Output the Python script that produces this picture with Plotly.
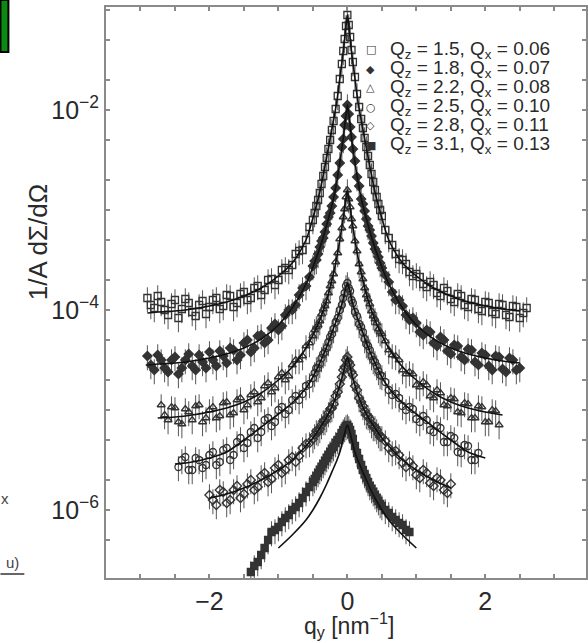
import numpy as np
import plotly.graph_objects as go

# ---------------- data (log10 of 1/A dSigma/dOmega) ----------------
# scan A q-grid
Q_A = [-2.9, -2.8, -2.7, -2.6, -2.5, -2.4, -2.3, -2.2, -2.1, -2.0, -1.9, -1.8,
       -1.7, -1.6, -1.5, -1.4, -1.3, -1.2, -1.1, -1.0, -0.9, -0.8, -0.7, -0.6,
       -0.5, -0.45, -0.4, -0.35, -0.3, -0.25, -0.2, -0.17, -0.14, -0.11, -0.08, -0.06, -0.04, -0.02,
       0.0,
       0.02, 0.04, 0.06, 0.08, 0.11, 0.14, 0.17, 0.2, 0.25, 0.3, 0.35, 0.4, 0.45, 0.5,
       0.6, 0.7, 0.8, 0.9, 1.0, 1.1, 1.2, 1.3, 1.4, 1.5, 1.6, 1.7, 1.8, 1.9, 2.0,
       2.1, 2.2, 2.3, 2.4, 2.5, 2.6]
# scan B q-grid (interleaved points)
Q_B = [-2.85, -2.75, -2.65, -2.55, -2.45, -2.35, -2.25, -2.15, -2.05, -1.95, -1.85, -1.75,
       -1.65, -1.55, -1.45, -1.35, -1.25, -1.15, -1.05, -0.95, -0.85, -0.75, -0.65,
       -0.55, -0.475, -0.425, -0.375, -0.325, -0.275, -0.225,
       0.225, 0.275, 0.325, 0.375, 0.425, 0.475, 0.55,
       0.65, 0.75, 0.85, 0.95, 1.05, 1.15, 1.25, 1.35, 1.45, 1.55, 1.65, 1.75, 1.85, 1.95,
       2.05, 2.15, 2.25, 2.35, 2.45, 2.55]

S1_A = [-3.88, -3.98, -3.92, -4.05, -3.90, -3.99, -3.93, -4.06, -3.91, -3.97, -3.88, -3.96,
        -3.86, -3.93, -3.82, -3.88, -3.76, -3.80, -3.69, -3.70, -3.58, -3.55, -3.41, -3.30,
        -3.10, -2.96, -2.83, -2.66, -2.48, -2.30, -2.11, -1.99, -1.86, -1.69, -1.54, -1.41, -1.29, -1.16,
        -1.05,
        -1.15, -1.27, -1.40, -1.52, -1.67, -1.84, -1.97, -2.09, -2.28, -2.46, -2.64, -2.80, -2.94, -3.06,
        -3.28, -3.44, -3.50, -3.62, -3.64, -3.74, -3.72, -3.83, -3.78, -3.89, -3.84, -3.95, -3.89, -3.99,
        -3.92, -4.02, -3.94, -4.05, -3.96, -4.08, -3.98]
S1_B = [-3.95, -3.86, -4.00, -3.94, -4.08, -3.89, -4.02, -3.95, -4.04, -3.90, -3.99, -3.85,
        -3.97, -3.84, -3.90, -3.78, -3.85, -3.70, -3.75, -3.60, -3.60, -3.44, -3.40,
        -3.17, -3.03, -2.90, -2.74, -2.57, -2.39, -2.20,
        -2.18, -2.37, -2.55, -2.72, -2.87, -3.00, -3.20,
        -3.35, -3.49, -3.54, -3.66, -3.67, -3.77, -3.75, -3.86, -3.81, -3.92, -3.86, -3.97, -3.90, -4.01,
        -3.93, -4.04, -3.95, -4.07, -3.97, -4.03]

S2_A = [-4.46, -4.60, -4.50, -4.62, -4.47, -4.58, -4.44, -4.60, -4.52, -4.42, -4.56, -4.46,
        -4.38, -4.50, -4.33, -4.42, -4.26, -4.33, -4.18, -4.20, -4.05, -4.00, -3.85, -3.76,
        -3.56, -3.50, -3.37, -3.28, -3.14, -3.03, -2.87, -2.78, -2.65, -2.53, -2.37, -2.29, -2.15, -2.06,
        -1.95,
        -2.04, -2.17, -2.27, -2.39, -2.51, -2.67, -2.76, -2.89, -3.01, -3.16, -3.26, -3.39, -3.47, -3.58,
        -3.72, -3.90, -3.96, -4.10, -4.13, -4.25, -4.22, -4.36, -4.30, -4.44, -4.36, -4.50, -4.40, -4.55,
        -4.45, -4.60, -4.47, -4.62, -4.50, -4.58, None]
S2_B = [-4.55, -4.45, -4.58, -4.50, -4.64, -4.50, -4.56, -4.45, -4.58, -4.50, -4.41, -4.53,
        -4.40, -4.45, -4.30, -4.38, -4.25, -4.30, -4.14, -4.16, -4.00, -3.95, -3.78,
        -3.67, -3.51, -3.44, -3.31, -3.22, -3.07, -2.96,
        -2.94, -3.09, -3.20, -3.33, -3.42, -3.53, -3.65,
        -3.82, -3.90, -4.05, -4.08, -4.22, -4.20, -4.33, -4.27, -4.41, -4.35, -4.47, -4.39, -4.52, -4.43,
        -4.56, -4.46, -4.59, -4.48, -4.60, None]

S3_A = [None, None, -4.95, -5.10, -4.98, -5.14, -5.02, -4.96, -5.12, -5.00, -5.08, -4.93,
        -5.05, -4.90, -5.00, -4.85, -4.92, -4.76, -4.82, -4.67, -4.70, -4.55, -4.50, -4.36,
        -4.26, -4.17, -4.11, -3.99, -3.91, -3.76, -3.64, -3.52, -3.43, -3.29, -3.18, -3.07, -2.99, -2.87,
        -2.80,
        -2.89, -2.97, -3.09, -3.16, -3.31, -3.41, -3.54, -3.62, -3.78, -3.89, -4.01, -4.09, -4.19, -4.24,
        -4.40, -4.46, -4.60, -4.62, -4.75, -4.72, -4.86, -4.80, -4.95, -4.88, -5.02, -4.93, -5.08, -4.96,
        -5.12, -5.00, -5.15, None, None, None, None]
S3_B = [None, None, -5.05, -4.97, -5.12, -4.99, -5.10, -4.95, -5.08, -4.97, -5.06, -4.92,
        -5.03, -4.88, -4.95, -4.82, -4.88, -4.73, -4.78, -4.63, -4.66, -4.50, -4.46,
        -4.33, -4.20, -4.15, -4.04, -3.96, -3.83, -3.71,
        -3.69, -3.85, -3.94, -4.06, -4.13, -4.22, -4.31,
        -4.45, -4.50, -4.64, -4.64, -4.77, -4.75, -4.88, -4.83, -4.96, -4.89, -5.03, -4.94, -5.08, -4.97,
        -5.12, -5.01, None, None, None, None]

S4_A = [None, None, None, None, None, -5.50, -5.60, -5.48, -5.58, -5.45, -5.55, -5.40,
        -5.50, -5.32, -5.38, -5.22, -5.28, -5.10, -5.16, -5.00, -5.04, -4.90, -4.90, -4.76,
        -4.68, -4.58, -4.54, -4.44, -4.38, -4.27, -4.19, -4.12, -4.08, -4.00, -3.95, -3.88, -3.83, -3.76,
        -3.73,
        -3.78, -3.81, -3.90, -3.93, -4.02, -4.06, -4.14, -4.17, -4.29, -4.36, -4.46, -4.52, -4.61, -4.66,
        -4.80, -4.84, -4.96, -4.97, -5.09, -5.06, -5.20, -5.16, -5.32, -5.26, -5.42, -5.35, -5.50, -5.43,
        None, None, None, None, None, None, None]
S4_B = [None, None, None, None, -5.57, -5.47, -5.60, -5.50, -5.55, -5.42, -5.52, -5.38,
        -5.45, -5.28, -5.33, -5.18, -5.22, -5.08, -5.12, -4.97, -5.00, -4.86, -4.84,
        -4.74, -4.63, -4.58, -4.48, -4.42, -4.32, -4.24,
        -4.22, -4.34, -4.40, -4.50, -4.56, -4.65, -4.72,
        -4.85, -4.88, -5.00, -4.99, -5.12, -5.10, -5.22, -5.18, -5.32, -5.28, -5.43, -5.36, -5.50, None,
        None, None, None, None, None, None]

S5_A = [None, None, None, None, None, None, None, None, None, -5.85, -5.95, -5.82,
        -5.90, -5.76, -5.84, -5.70, -5.77, -5.63, -5.69, -5.55, -5.60, -5.47, -5.46, -5.34,
        -5.29, -5.21, -5.19, -5.11, -5.08, -4.99, -4.94, -4.86, -4.82, -4.74, -4.67, -4.60, -4.57, -4.50,
        -4.47,
        -4.52, -4.55, -4.62, -4.65, -4.76, -4.80, -4.88, -4.92, -5.01, -5.06, -5.14, -5.17, -5.24, -5.27,
        -5.38, -5.41, -5.53, -5.52, -5.65, -5.60, -5.73, -5.68, -5.80, -5.74, None, None, None, None,
        None, None, None, None, None, None, None]
S5_B = [None, None, None, None, None, None, None, None, None, -5.90, -5.80, -5.93,
        -5.80, -5.88, -5.74, -5.80, -5.66, -5.72, -5.58, -5.63, -5.50, -5.52, -5.38,
        -5.33, -5.25, -5.22, -5.15, -5.11, -5.03, -4.98,
        -4.96, -5.05, -5.09, -5.17, -5.20, -5.27, -5.31,
        -5.42, -5.45, -5.57, -5.56, -5.68, -5.63, -5.76, -5.70, -5.83, None, None, None, None, None,
        None, None, None, None, None, None]

S6_A = [None, None, None, None, None, None, None, None, None, None, None, None,
        None, None, None, -6.62, -6.52, -6.38, -6.22, -6.17, -6.08, -6.00, -5.93, -5.82,
        -5.72, -5.66, -5.60, -5.54, -5.48, -5.42, -5.37, -5.33, -5.30, -5.27, -5.23, -5.20, -5.18, -5.16,
        -5.15,
        -5.17, -5.20, -5.24, -5.29, -5.36, -5.43, -5.49, -5.55, -5.64, -5.72, -5.79, -5.85, -5.91, -5.96,
        -6.03, -6.10, -6.15, -6.22, None, None, None, None, None, None, None, None, None, None,
        None, None, None, None, None, None, None]
S6_B = [None, None, None, None, None, None, None, None, None, None, None, None,
        None, None, None, -6.56, -6.45, -6.30, -6.20, -6.12, -6.05, -5.97, -5.88,
        -5.77, -5.69, -5.63, -5.57, -5.51, -5.45, -5.39,
        -5.60, -5.68, -5.76, -5.82, -5.88, -5.94, -6.00,
        -6.07, -6.13, -6.20, None, None, None, None, None, None, None, None, None, None, None,
        None, None, None, None, None, None]

# fitted curves (symmetric in q_y): half grid and log10 values
FIT_Q_HALF = [0.0, 0.015, 0.03, 0.05, 0.075, 0.1, 0.15, 0.2, 0.3, 0.4, 0.5, 0.6, 0.8, 1.0,
              1.25, 1.5, 1.75, 2.0, 2.25, 2.5, 2.75, 2.9]
S1_FIT = [-1.05, -1.13, -1.22, -1.35, -1.50, -1.63, -1.90, -2.10, -2.47, -2.82, -3.08, -3.30, -3.53, -3.66,
          -3.78, -3.86, -3.92, -3.96, -3.99, -4.01, -4.02, -4.03]
S2_FIT = [-1.95, -2.02, -2.10, -2.22, -2.36, -2.48, -2.70, -2.88, -3.15, -3.38, -3.57, -3.74, -3.98, -4.15,
          -4.29, -4.38, -4.44, -4.48, -4.51, -4.53, -4.54, -4.55]
S3_FIT = [-2.80, -2.86, -2.93, -3.03, -3.15, -3.26, -3.46, -3.63, -3.90, -4.10, -4.25, -4.38, -4.57, -4.70,
          -4.83, -4.92, -4.98, -5.02, -5.05, -5.07, -5.08, -5.08]
S4_FIT = [-3.73, -3.76, -3.80, -3.86, -3.93, -3.99, -4.09, -4.18, -4.37, -4.53, -4.67, -4.78, -4.93, -5.04,
          -5.17, -5.30, -5.42, -5.48, -5.52, -5.54, -5.55, -5.55]
S5_FIT = [-4.47, -4.50, -4.54, -4.60, -4.67, -4.73, -4.84, -4.93, -5.07, -5.18, -5.28, -5.36, -5.50, -5.60,
          -5.70, -5.78, -5.84, -5.88, -5.90, -5.91, -5.92, -5.92]
S6_FIT = [-5.15, -5.17, -5.21, -5.26, -5.33, -5.40, -5.50, -5.58, -5.74, -5.88, -6.00, -6.10, -6.25, -6.38,
          None, None, None, None, None, None, None, None]
FIT_RANGES = [(-2.9, 2.5), (-2.9, 2.5), (-2.75, 2.25), (-2.5, 2.0), (-2.0, 1.5), (-1.0, 1.0)]

QZ_VALUES = ["1.5", "1.8", "2.2", "2.5", "2.8", "3.1"]
QX_VALUES = ["0.06", "0.07", "0.08", "0.10", "0.11", "0.13"]
SYMBOLS = ["square-open", "diamond", "triangle-up-open", "circle-open", "diamond-open", "square"]
LEGEND_GLYPHS = ["\u25a1", "\u25c6", "\u25b3", "\u25cb", "\u25c7", "\u25a0"]

DATA_A = [S1_A, S2_A, S3_A, S4_A, S5_A, S6_A]
DATA_B = [S1_B, S2_B, S3_B, S4_B, S5_B, S6_B]
FITS = [S1_FIT, S2_FIT, S3_FIT, S4_FIT, S5_FIT, S6_FIT]

# ---------------- figure ----------------
W, H = 588, 643
ML, MR, MT, MB = 106, 0, 7, 65
PW, PH = W - ML - MR, H - MT - MB
FONT = "Arial, Liberation Sans, Helvetica, sans-serif"
INK = "#2a2a2a"


def px_to_paper(px, py):
    return (px - ML) / PW, 1 - (py - MT) / PH


fig = go.Figure()

for i in range(6):
    qs, ys = [], []
    for qgrid, vals in ((Q_A, DATA_A[i]), (Q_B, DATA_B[i])):
        for q, v in zip(qgrid, vals):
            if v is not None:
                qs.append(q)
                ys.append(10 ** v)
    fig.add_trace(go.Scatter(
        x=qs, y=ys, mode="markers", showlegend=False,
        marker=dict(symbol=SYMBOLS[i], size=7, color="#333333",
                    line=dict(width=1.3, color="#333333")),
        error_y=dict(type="percent", value=28, thickness=1, width=0, color="#555555"),
    ))

for i in range(6):
    qh = FIT_Q_HALF
    vh = FITS[i]
    q_full = [-q for q in qh[:0:-1]] + list(qh)
    v_full = list(vh[:0:-1]) + list(vh)
    lo, hi = FIT_RANGES[i]
    xs, ys = [], []
    for q, v in zip(q_full, v_full):
        if v is not None and lo - 1e-9 <= q <= hi + 1e-9:
            xs.append(q)
            ys.append(10 ** v)
    fig.add_trace(go.Scatter(x=xs, y=ys, mode="lines", showlegend=False,
                             line=dict(color="#111111", width=1.6, shape="spline", smoothing=0.8)))

# axis ticks
x_tickvals = [-3.0, -2.5, -2.0, -1.5, -1.0, -0.5, 0.0, 0.5, 1.0, 1.5, 2.0, 2.5, 3.0]
x_ticktext = ["", "", "\u22122", "", "", "", "0", "", "", "", "2", "", ""]
y_tickvals, y_ticktext = [], []
for e in range(-7, 0):
    for m in (1, 2, 5):
        y_tickvals.append(m * 10.0 ** e)
        y_ticktext.append(f"10<sup>\u2212{-e}</sup>" if (m == 1 and e in (-6, -4, -2)) else "")

axis_common = dict(showgrid=False, zeroline=False, showline=True, linecolor="#8a8a8a", linewidth=2,
                   mirror="ticks", ticks="inside", ticklen=4, tickwidth=1.5, tickcolor="#8a8a8a",
                   tickfont=dict(family=FONT, size=25, color=INK))

fig.update_layout(
    width=W, height=H, margin=dict(l=ML, r=MR, t=MT, b=MB),
    paper_bgcolor="white", plot_bgcolor="white",
    xaxis=dict(range=[-3.5, 3.46], tickvals=x_tickvals, ticktext=x_ticktext, **axis_common),
    yaxis=dict(type="log", range=[-6.68, -0.97], tickvals=y_tickvals, ticktext=y_ticktext, **axis_common),
)

ann = []
# axis titles
x0, y0 = px_to_paper(38, 242)
ann.append(dict(text="1/A d\u03a3/d\u03a9", x=x0, y=y0, xref="paper", yref="paper", textangle=-90,
                showarrow=False, xanchor="center", yanchor="middle",
                font=dict(family=FONT, size=26, color=INK)))
x0, y0 = px_to_paper(350, 643)
ann.append(dict(text="q<sub>y</sub> [nm<sup>\u22121</sup>]", x=x0, y=y0, xref="paper", yref="paper",
                showarrow=False, xanchor="center", yanchor="bottom",
                font=dict(family=FONT, size=23, color=INK)))
# legend rows
for i in range(6):
    py = 50 + 19 * i
    gx, gy = px_to_paper(372, py)
    ann.append(dict(text=LEGEND_GLYPHS[i], x=gx, y=gy, xref="paper", yref="paper", showarrow=False,
                    xanchor="center", yanchor="middle", font=dict(family="DejaVu Sans", size=11, color="#333")))
    tx, ty = px_to_paper(389, py)
    ann.append(dict(text=f"Q<sub>z</sub> = {QZ_VALUES[i]}, Q<sub>x</sub> = {QX_VALUES[i]}",
                    x=tx, y=ty, xref="paper", yref="paper", showarrow=False,
                    xanchor="left", yanchor="middle", font=dict(family=FONT, size=19, color=INK)))
# fragments of the neighbouring panel at the left edge
fx, fy = px_to_paper(5, 498)
ann.append(dict(text="x", x=fx, y=fy, xref="paper", yref="paper", showarrow=False,
                xanchor="center", yanchor="middle", font=dict(family=FONT, size=15, color="#444")))
fx, fy = px_to_paper(12, 562)
ann.append(dict(text="u)", x=fx, y=fy, xref="paper", yref="paper", showarrow=False,
                xanchor="center", yanchor="middle", font=dict(family=FONT, size=15, color="#444")))
fig.update_layout(annotations=ann)

shapes = []
bx0, by0 = px_to_paper(0, 0)
bx1, by1 = px_to_paper(8, 52)
shapes.append(dict(type="rect", xref="paper", yref="paper", x0=bx0, y0=by0, x1=bx1, y1=by1,
                   fillcolor="#0a8a10", line=dict(color="black", width=2)))
ux0, uy = px_to_paper(0, 574)
ux1, _ = px_to_paper(24, 574)
shapes.append(dict(type="line", xref="paper", yref="paper", x0=ux0, y0=uy, x1=ux1, y1=uy,
                   line=dict(color="#333", width=1.5)))
fig.update_layout(shapes=shapes)

fig.write_html("out.html")
